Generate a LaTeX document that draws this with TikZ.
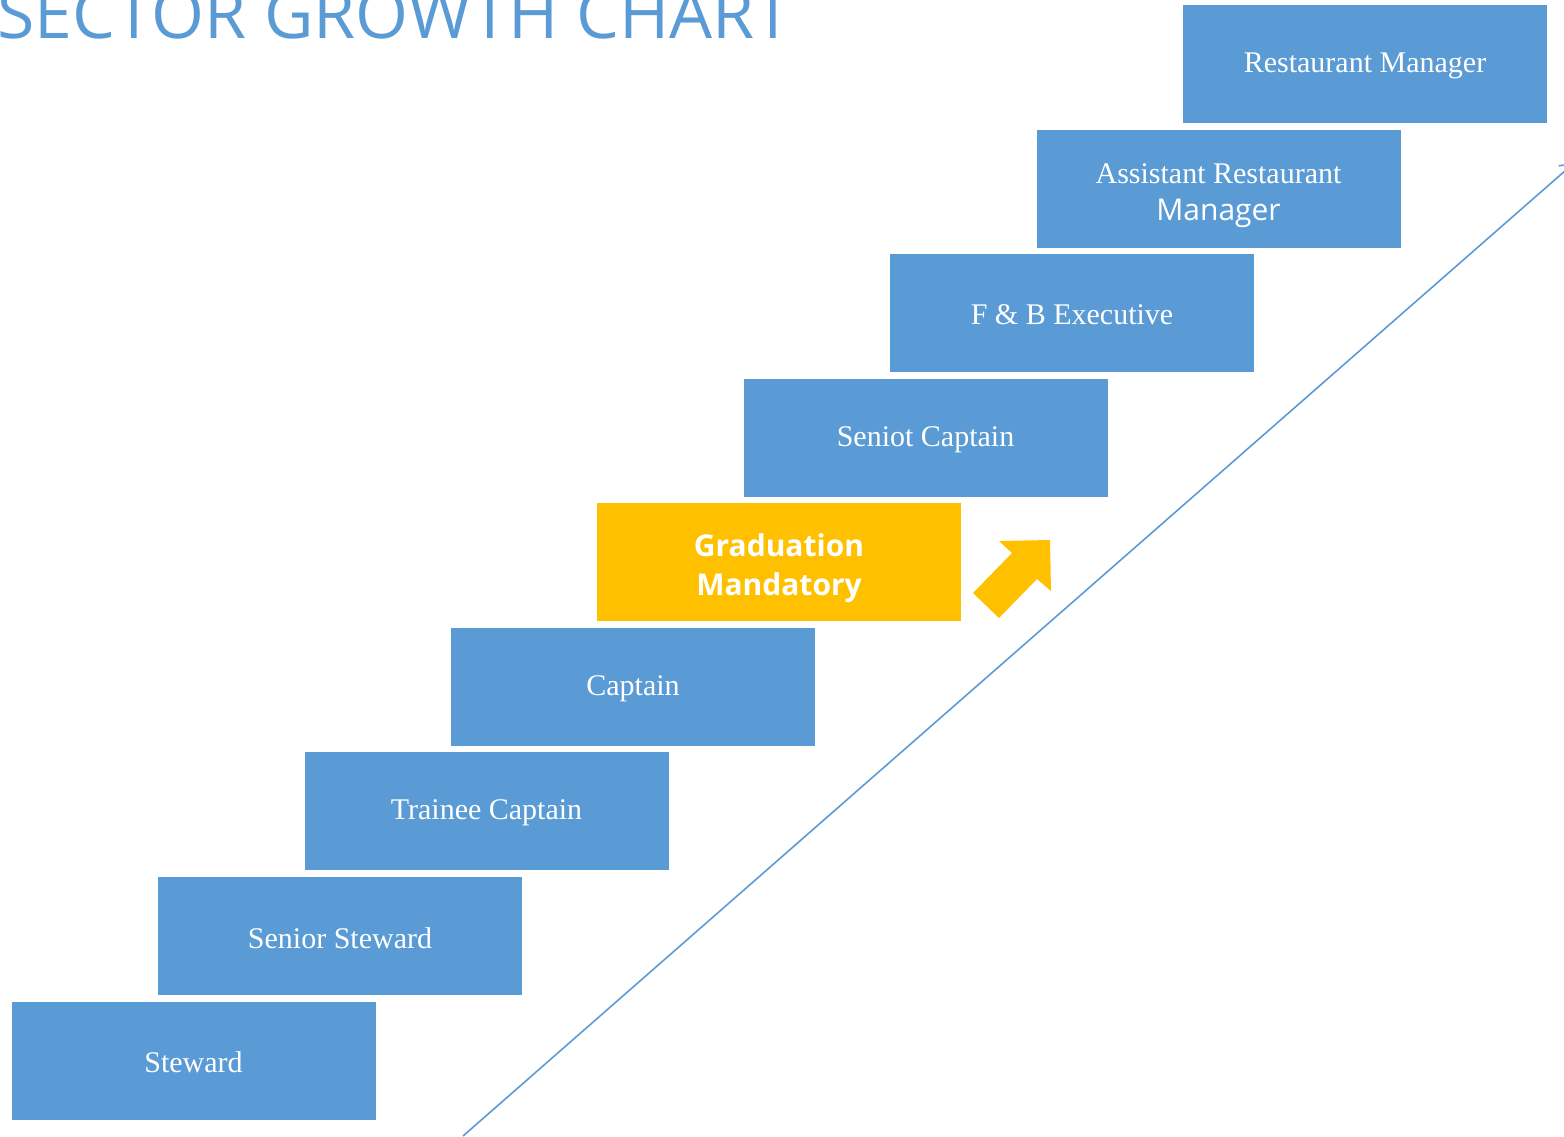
\documentclass[tikz,border=0pt]{standalone}
\usepackage{fontspec}
\setmainfont{Liberation Serif}
\setsansfont{Open Sans}
\usetikzlibrary{positioning,arrows.meta}
\definecolor{stepblue}{HTML}{5B9BD5}
\definecolor{gradgold}{HTML}{FFC000}
\newcommand{\sunk}[2]{\raisebox{-#1}[\height][\depth]{#2}}
\newcommand{\twolines}[2]{\begin{tabular}{@{}c@{}}#1\\#2\end{tabular}}
\tikzset{
  level/.style={draw=white, fill=stepblue, text=white, align=center,
    minimum width=182.5pt, minimum height=59.5pt, inner sep=0pt,
    font=\fontsize{15}{18.5}\selectfont},
  gradbox/.style={level, fill=gradgold, font=\sffamily\bfseries\fontsize{15}{19.5}\selectfont},
}
\begin{document}
\begin{tikzpicture}[x=0.5pt, y=-0.5pt]
\useasboundingbox (0,0) rectangle (1564,1136);
\clip (0,0) rectangle (1564,1136);

% title
\node[anchor=base west, text=stepblue, inner sep=0pt,
  font=\sffamily\fontsize{34}{34}\selectfont] (title) at (-3,38) {SECTOR GROWTH CHART};

% the steps
\node[level] (steward)     at (193.5,1060.5) {\sunk{1pt}{Steward}};
\node[level] (seniorsteward) at (340,936)   {\sunk{1pt}{Senior Steward}};
\node[level] (trainee)     at (486.5,811)   {\sunk{1pt}{Trainee Captain}};
\node[level] (captain)     at (633,687)     {\sunk{1pt}{Captain}};
\node[gradbox] (graduation) at (779,562)    {\sunk{3pt}{\twolines{Graduation}{Mandatory}}};
\node[level] (seniorcaptain) at (925.5,437.5) {\sunk{1pt}{Seniot Captain}};
\node[level] (fbexec)      at (1072,313)    {\sunk{1pt}{F \& B Executive}};
\node[level] (asstmanager) at (1218.5,188.5) {\sunk{3pt}{\twolines{Assistant Restaurant}{\sffamily Manager}}};
\node[level] (manager)     at (1365,64)     {\sunk{1pt}{Restaurant Manager}};

% growth line
\coordinate (growthstart) at (463,1136);
\coordinate (growthend)   at (1574,163);
\draw[stepblue, line width=0.8pt, -{Straight Barb[length=6pt,width=8pt]}] (growthstart) -- (growthend);

% gold arrow
\fill[gradgold] (973,593) -- (999,618) -- (1037,579) -- (1051,591) -- (1050,540)
  -- (999,541) -- (1012,553) -- cycle;

\end{tikzpicture}
\end{document}
